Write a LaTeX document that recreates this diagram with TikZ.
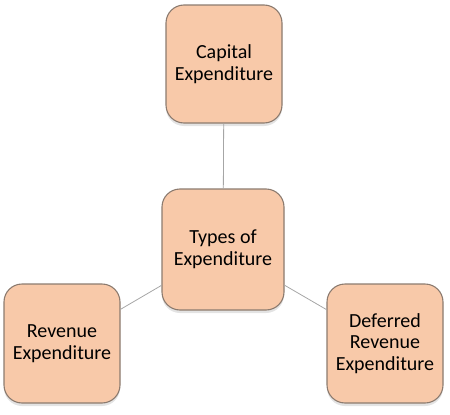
\documentclass[tikz,border=0pt]{standalone}
\usepackage{fontspec}
\setmainfont{Carlito}
\usetikzlibrary{shadows}
\definecolor{peach}{HTML}{F8C9A9}
\definecolor{rim}{HTML}{8C7B6F}
\begin{document}
\begin{tikzpicture}[x=1pt,y=-1pt,
  box/.style={draw=rim,line width=1.1pt,fill=peach,rounded corners=18pt,
    align=center,font=\fontsize{20}{21.5}\selectfont,inner sep=0pt,
    drop shadow={opacity=0.22,shadow xshift=0pt,shadow yshift=-3pt}},
  link/.style={draw=gray!70,line width=0.8pt}]
\useasboundingbox (0,0) rectangle (450,415);
\node[box,minimum width=116pt,minimum height=118pt] (cap) at (224,64) {Capital\\Expenditure};
\node[box,minimum width=122pt,minimum height=121pt] (types) at (223,249.5) {Types of\\Expenditure};
\node[box,minimum width=116pt,minimum height=119pt] (rev) at (62,343.5) {Revenue\\Expenditure};
\node[box,minimum width=116pt,minimum height=119pt] (def) at (385,343.5) {Deferred\\Revenue\\Expenditure};
\draw[link] (types) -- (cap);
\draw[link] (types) -- (rev);
\draw[link] (types) -- (def);
\end{tikzpicture}
\end{document}
